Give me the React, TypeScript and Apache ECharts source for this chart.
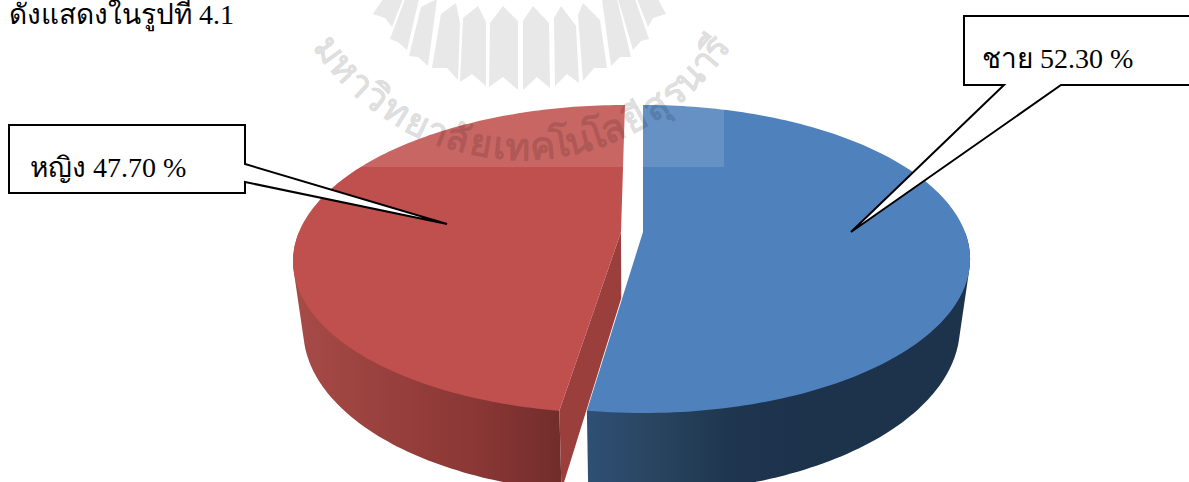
import React, { useEffect, useRef } from "react";
import * as echarts from "echarts";

const categories = ["ชาย", "หญิง"];
const shares = [52.3, 47.7];
const topFill = ["#4f81bd", "#c0504d"];
const wallStops = [
  ["#2f4f75", "#28445f", "#1f3650", "#1d324b"],
  ["#a64a46", "#98403d", "#8a3735", "#702d2b"],
];
const cutFill = ["#1d324b", "#9b3f3d"];
const apexX = [643, 621];
const shear = [0, -0.031];

const caption = "ดังแสดงในรูปที่ 4.1";
const watermarkGlyphs = ["ม","ห","า","วิ","ท","ย","า","ลั","ย","เ","ท","ค","โ","น","โ","ล","ยี","สุ","ร","น","า","รี"];
const watermarkWidths = [1,1,0.75,1,1,1,0.75,1,1,0.5,1,1,0.5,1,0.5,1,1,1,0.8,1,0.75,0.8];
const logoPetals = [
  [[533,6],[549,23],[550,88],[537,77],[523,90],[523,21]],
  [[503,6],[518,21],[518,90],[503,77],[489,87],[490,23]],
  [[478,6],[486,22],[486,86],[472,74],[460,82],[463,18]],
  [[456,3],[460,23],[458,80],[447,68],[432,68],[441,14]],
  [[437,-1],[428,66],[418,57],[409,56],[421,7]],
  [[419,-1],[407,50],[398,42],[390,39],[405,-1]],
  [[403,-1],[392,27],[385,18],[373,14],[383,-1]],
  [[561,6],[576,26],[579,83],[567,74],[555,86],[554,18]],
  [[583,3],[600,20],[607,68],[594,68],[583,81],[578,15]],
  [[602,-1],[617,-1],[631,57],[620,57],[611,66]],
  [[618,-1],[635,-1],[649,39],[641,41],[633,50]],
  [[637,-1],[658,-1],[666,14],[653,18],[648,27]],
];

const APEX_Y = 232;
const SCALE_Y = 149.3;
const SCALE_X = 322;
const PERSPECTIVE = 0.1753;
const WALL_VX = 631;
const WALL_SX = 0.97;
const WALL_AY = 1.076;
const WALL_BY = 48.4;
const STEPS = 160;

function rim(slice: number, theta: number) {
  const u = Math.sin(theta);
  const v = -Math.cos(theta);
  const w = 1 - PERSPECTIVE * v;
  const y = APEX_Y + (SCALE_Y * v) / w;
  const x = apexX[slice] + (SCALE_X * u) / w + shear[slice] * (y - APEX_Y);
  return [x, y];
}
function lower(p: number[]) {
  return [WALL_VX + WALL_SX * (p[0] - WALL_VX), WALL_AY * p[1] + WALL_BY];
}
function hull(input: number[][]) {
  const pts = input.slice().sort((a, b) => a[0] - b[0] || a[1] - b[1]);
  const cross = (o: number[], a: number[], b: number[]) =>
    (a[0] - o[0]) * (b[1] - o[1]) - (a[1] - o[1]) * (b[0] - o[0]);
  const lo: number[][] = [];
  for (const p of pts) {
    while (lo.length >= 2 && cross(lo[lo.length - 2], lo[lo.length - 1], p) <= 0) lo.pop();
    lo.push(p);
  }
  const up: number[][] = [];
  for (const p of pts.slice().reverse()) {
    while (up.length >= 2 && cross(up[up.length - 2], up[up.length - 1], p) <= 0) up.pop();
    up.push(p);
  }
  return lo.slice(0, -1).concat(up.slice(0, -1));
}

function renderSlice(params: any, api: any) {
  const i = params.dataIndex;
  const total = shares.reduce((a, b) => a + b, 0);
  const before = shares.slice(0, i).reduce((a, b) => a + b, 0);
  const t0 = (before / total) * Math.PI * 2;
  const t1 = ((before + api.value(1)) / total) * Math.PI * 2;
  const top: number[][] = [];
  for (let k = 0; k <= STEPS; k++) top.push(rim(i, t0 + ((t1 - t0) * k) / STEPS));
  const bottom = top.map(lower);
  const apex = [apexX[i], APEX_Y];
  const base = i === 0 ? 10 : 0;
  const stops = wallStops[i];
  const range = i === 0 ? [587, 800] : [300, 565];
  const wallGrad = new echarts.graphic.LinearGradient(
    range[0], 0, range[1], 0,
    stops.map((color, k) => ({ offset: k / (stops.length - 1), color })),
    true
  );
  const front = top.filter((p) => p[1] >= APEX_Y);
  const frontLow = front.map(lower);
  const children: any[] = [
    { type: "polygon", z2: base + 1, shape: { points: hull([...front, ...frontLow]) }, style: { fill: wallGrad } },
  ];
  if (i === 1) {
    children.push({
      type: "polygon", z2: base + 2,
      shape: { points: [apex, top[0], bottom[0], lower(apex)] },
      style: { fill: cutFill[i] },
    });
  }
  children.push({
    type: "polygon", z2: base + 3,
    shape: { points: [apex, ...top] },
    style: { fill: topFill[i] },
  });
  return { type: "group", children };
}

function watermark() {
  const cx = 522, cy = -90, R = 256;
  const from = -57, to = 57;
  const sum = watermarkWidths.reduce((a, b) => a + b, 0);
  let acc = 0;
  const glyphs = watermarkGlyphs.map((g, k) => {
    const w = watermarkWidths[k];
    const deg = from + ((acc + w / 2) / sum) * (to - from);
    acc += w;
    const a = (deg * Math.PI) / 180;
    return {
      type: "text",
      x: cx + R * Math.sin(a),
      y: cy + R * Math.cos(a),
      rotation: a,
      z: 50,
      silent: true,
      style: {
        text: g,
        x: 0, y: 0,
        align: "center",
        verticalAlign: "bottom",
        font: "bold 38px 'DejaVu Sans', 'Noto Sans', sans-serif",
        fill: "rgba(0,0,0,0.15)",
      },
    };
  });
  const petals = logoPetals.map((points) => ({
    type: "polygon", z: 50, silent: true,
    shape: { points },
    style: { fill: "#e8e8e8" },
  }));
  const wash = {
    type: "rect", z: 49, silent: true,
    shape: { x: 300, y: 0, width: 424, height: 167 },
    style: { fill: "rgba(255,255,255,0.13)" },
  };
  return [wash, ...petals, ...glyphs];
}

const FONT = "28px 'Liberation Serif', 'DejaVu Serif', serif";

function callouts() {
  const boxes = [
    [[964,16],[1196,16],[1196,85],[1061,85],[851,232],[1004,85],[964,85]],
    [[9,125],[245,125],[245,164],[447,224],[245,182],[245,193],[9,193]],
  ];
  const anchors = [[982, 72], [30, 181]];
  const out: any[] = [];
  categories.forEach((name, i) => {
    out.push({
      type: "polygon", z: 60, silent: true,
      shape: { points: boxes[i] },
      style: { fill: "#fff", stroke: "#000", lineWidth: 2 },
    });
    out.push({
      type: "text", z: 61, silent: true,
      x: anchors[i][0], y: anchors[i][1],
      style: { text: `${name} ${shares[i].toFixed(2)} %`, font: FONT, fill: "#000", verticalAlign: "bottom" },
    });
  });
  out.push({
    type: "text", z: 61, silent: true, x: 9, y: 28,
    style: { text: caption, font: FONT, fill: "#000", verticalAlign: "bottom" },
  });
  return out;
}

export default function App() {
  const ref = useRef<HTMLDivElement>(null);
  useEffect(() => {
    const chart = echarts.init(ref.current!, null, { renderer: "svg" });
    chart.setOption({
      animation: false,
      backgroundColor: "#fff",
      series: [
        {
          type: "custom",
          coordinateSystem: "none",
          silent: true,
          clip: false,
          renderItem: renderSlice,
          data: categories.map((name, i) => ({ name, value: [i, shares[i]] })),
        },
      ],
      graphic: { elements: [...watermark(), ...callouts()] },
    });
    return () => chart.dispose();
  }, []);
  return <div ref={ref} style={{ position: "absolute", left: 0, top: 0, width: 1189, height: 482 }} />;
}
